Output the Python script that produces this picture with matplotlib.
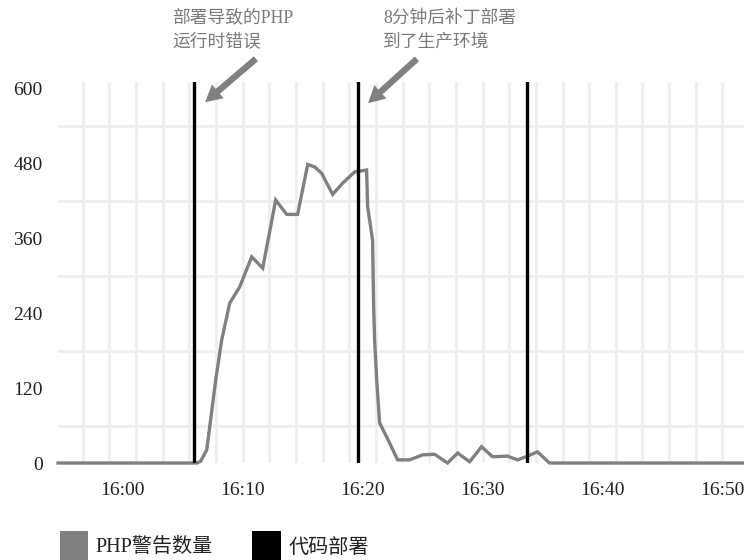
import numpy as np
import matplotlib
matplotlib.use("Agg")
import matplotlib.pyplot as plt
from matplotlib.patches import FancyArrowPatch, Rectangle

# Minutes after 16:00 and PHP warning counts
minutes = [-5.4, 6.2, 6.5, 7.0, 7.4, 7.75, 8.25, 8.92, 9.75, 10.75, 11.67,
           12.75, 13.67, 14.58, 15.42, 16.0, 16.58, 17.5, 18.33, 19.33,
           20.33, 20.42, 20.83, 20.92, 21.0, 21.17, 21.42, 22.0, 22.92,
           23.92, 25.0, 26.0, 27.08, 27.92, 28.92, 29.92, 30.83, 32.08,
           32.92, 33.75, 34.58, 35.58, 51.8]
warnings = [0, 0, 3, 21, 80, 133, 197, 256, 282, 330, 312,
            421, 398, 398, 478, 474, 464, 430, 448, 466,
            469, 410, 357, 250, 197, 133, 64, 42, 5,
            5, 13, 14, 0, 16, 2, 26, 10, 11,
            5, 11, 18, 0, 0]

# Deployment times (minutes after 16:00)
deploys = [5.92, 19.6, 33.7]

xtick_pos = [0, 10, 20, 30, 40, 50]
xtick_labels = ["16:00", "16:10", "16:20", "16:30", "16:40", "16:50"]
ytick_pos = [0, 120, 240, 360, 480, 600]

note1 = "部署导致的PHP\n运行时错误"
note2 = "8分钟后补丁部署\n到了生产环境"
legend_labels = ["PHP警告数量", "代码部署"]

W, H = 744, 560
fig = plt.figure(figsize=(W / 100, H / 100), dpi=100)
ax = fig.add_axes([58 / W, 1 - 463 / H, 1 - 58 / W, (463 - 82) / H])

serif = ["Liberation Serif", "Noto Sans CJK SC"]
grid_c = "#efefef"

xmin, xmax = -5.4, 51.8
ax.set_xlim(xmin, xmax)
ax.set_ylim(0, 610)

# background grid
for gx in 50 - np.arange(0, 26) * 20 / 9:
    ax.axvline(gx, color=grid_c, lw=2.2, zorder=0)
for gy in np.arange(60, 600, 120):
    ax.axhline(gy, color=grid_c, lw=2.2, zorder=0)

ax.plot(minutes, warnings, color="#808080", lw=2.4, zorder=2,
        clip_on=False, solid_joinstyle="miter")
for d in deploys:
    ax.axvline(d, color="black", lw=2.4, zorder=3)

for s in ax.spines.values():
    s.set_visible(False)
ax.set_xticks(xtick_pos)
ax.set_xticklabels(xtick_labels)
ax.set_yticks(ytick_pos)
ax.set_yticklabels([str(v) for v in ytick_pos])
ax.tick_params(length=0, labelsize=14, colors="#222222")
ax.tick_params(axis="x", pad=14)
ax.tick_params(axis="y", pad=11)
for lab in ax.get_xticklabels() + ax.get_yticklabels():
    lab.set_family(serif)


def fx(px):
    return px / W


def fy(py):
    return 1 - py / H


txt_c = "#7a7a7a"
fig.text(fx(172), fy(18), note1.split("\n")[0], ha="left", va="center",
         fontsize=12.8, color=txt_c, family=serif)
fig.text(fx(172), fy(42), note1.split("\n")[1], ha="left", va="center",
         fontsize=12.8, color=txt_c, family=serif)
fig.text(fx(383), fy(18), note2.split("\n")[0], ha="left", va="center",
         fontsize=12.8, color=txt_c, family=serif)
fig.text(fx(383), fy(42), note2.split("\n")[1], ha="left", va="center",
         fontsize=12.8, color=txt_c, family=serif)

arrow_style = "simple,head_length=12,head_width=13,tail_width=4.6"
for (x0, y0), (x1, y1) in [((258, 57), (203, 104)), ((419, 57), (366, 105))]:
    fig.add_artist(FancyArrowPatch((fx(x0), fy(y0)), (fx(x1), fy(y1)),
                                   transform=fig.transFigure,
                                   arrowstyle=arrow_style, color="#808080",
                                   lw=0, mutation_scale=1))

# legend
fig.add_artist(Rectangle((fx(60), fy(562)), 28 / W, 31 / H,
                         transform=fig.transFigure, color="#808080", lw=0))
fig.text(fx(95), fy(548), legend_labels[0], ha="left", va="center",
         fontsize=14.5, color="#222222", family=serif)
fig.add_artist(Rectangle((fx(252), fy(562)), 29 / W, 31 / H,
                         transform=fig.transFigure, color="black", lw=0))
fig.text(fx(289), fy(548), legend_labels[1], ha="left", va="center",
         fontsize=14.5, color="#222222", family=serif)

fig.savefig("out.png", dpi=100)
